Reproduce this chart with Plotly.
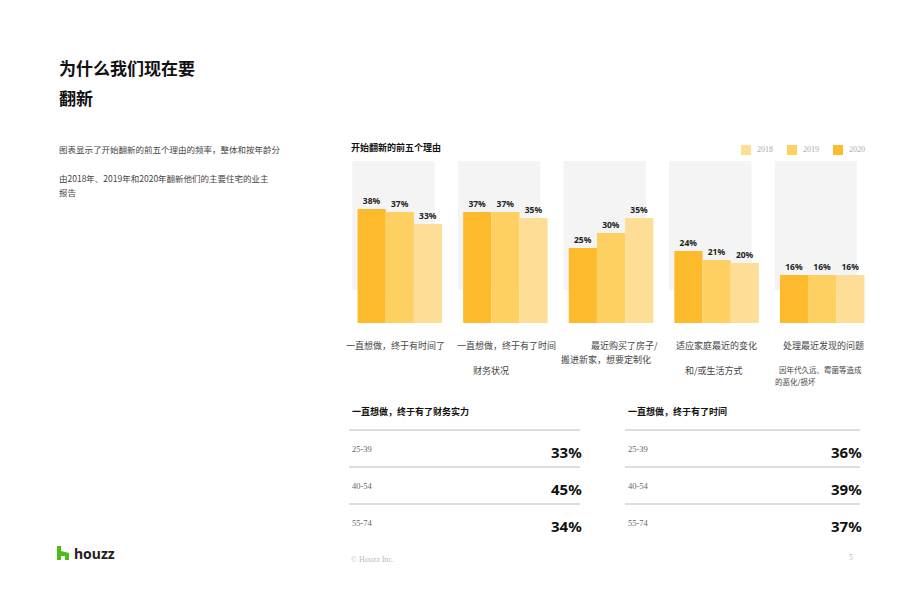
import plotly.graph_objects as go

# -----------------------------
# Data
# -----------------------------
groups = [0, 1, 2, 3, 4]
years = ["2020", "2019", "2018"]
values_2020 = [38, 37, 25, 24, 16]
values_2019 = [37, 37, 30, 21, 16]
values_2018 = [33, 35, 35, 20, 16]
year_colors = {"2020": "#FDBA2C", "2019": "#FECF61", "2018": "#FEDE96"}

table_ages = ["25-39", "40-54", "55-74"]
money_pct = [33, 45, 34]
time_pct = [36, 39, 37]

# page body has an 8px margin, so the figure is a bit smaller and offset
OFF = 8
W, H = 920 - 2 * OFF, 596 - 2 * OFF


def px(x):
    return (x - OFF) / W


def py(y):
    return 1 - (y - OFF) / H


fig = go.Figure()
for yr, vals in zip(years, [values_2020, values_2019, values_2018]):
    fig.add_trace(go.Bar(
        x=groups, y=vals, name=yr,
        marker=dict(color=year_colors[yr], line=dict(width=0)),
        text=[f"<b>{v}%</b>" for v in vals], textposition="outside",
        textfont=dict(family="Noto Sans", size=8.5, color="#222"),
        cliponaxis=False, hoverinfo="skip",
    ))

# gray panels behind each group
for g in groups:
    fig.add_shape(type="rect", xref="x", yref="y", x0=g - 0.45, x1=g + 0.33,
                  y0=11, y1=54, fillcolor="#F4F4F4", line_width=0, layer="below")

ann = []
shapes = []


def text(x, y, s, size=9, color="#444", bold=False, anchor="left", family="Noto Sans CJK SC"):
    if bold:
        s = f"<b>{s}</b>"
    ann.append(dict(xref="paper", yref="paper", x=px(x), y=py(y), text=s, showarrow=False,
                    xanchor=anchor, yanchor="middle",
                    font=dict(size=size, color=color, family=family)))


# titles and intro
text(57, 68, "为什么我们现在要", 17, "#111", True)
text(57, 97, "翻新", 17, "#111", True)
text(57, 149, "图表显示了开始翻新的前五个理由的频率，整体和按年龄分", 8.5, "#444")
text(57, 178, "由2018年、2019年和2020年翻新他们的主要住宅的业主", 8.5, "#444")
text(57, 192, "报告", 8.5, "#444")
text(349, 147, "开始翻新的前五个理由", 9, "#111", True)

# custom legend (2018, 2019, 2020)
for yr, lx in zip(["2018", "2019", "2020"], [741, 787, 833]):
    shapes.append(dict(type="rect", xref="paper", yref="paper", x0=px(lx), x1=px(lx + 10),
                       y0=py(155), y1=py(145), fillcolor=year_colors[yr], line_width=0))
    text(lx + 14, 150, yr, 8, "#AAAAAA", family="Liberation Serif")

# category labels
cat = [
    (395, 345, "一直想做，终于有时间了", "center", 9),
    (506, 345, "一直想做，终于有了时间", "center", 9),
    (491, 370, "财务状况", "center", 9),
    (660, 345, "最近购买了房子/", "right", 9),
    (606, 359, "搬进新家，想要定制化", "center", 9),
    (716, 345, "适应家庭最近的变化", "center", 9),
    (714, 370, "和/或生活方式", "center", 9),
    (823, 345, "处理最近发现的问题", "center", 9),
    (820, 369, "因年代久远、霉菌等造成", "center", 7.5),
    (773, 381, "的恶化/损坏", "left", 7.5),
]
for x, y, s, a, sz in cat:
    text(x, y, s, sz, "#444", anchor=a)

# tables
for x0, x1, header, pcts in [(349, 580, "一直想做，终于有了财务实力", money_pct),
                             (625, 860, "一直想做，终于有了时间", time_pct)]:
    text(x0 + 1, 411, header, 9, "#111", True)
    for i, (age, p) in enumerate(zip(table_ages, pcts)):
        ly = 430 + i * 37
        shapes.append(dict(type="line", xref="paper", yref="paper", x0=px(x0), x1=px(x1),
                           y0=py(ly), y1=py(ly), line=dict(color="#BBBBBB", width=1)))
        text(x0 + 1, 449 + i * 37, age, 8.5, "#666", family="Liberation Serif")
        text(x1 + 4, 452 + i * 37, f"<b>{p}%</b>", 15, "#111", anchor="right", family="Noto Sans")

# footer
text(349, 559, "© Houzz Inc.", 8, "#BBBBBB", family="Liberation Serif")
text(855, 557, "5", 8, "#BBBBBB", anchor="right", family="Liberation Serif")
text(72, 553, "<b>houzz</b>", 14, "#222", family="Noto Sans")
shapes.append(dict(type="path", xref="paper", yref="paper",
                   path=f"M {px(57)} {py(560)} L {px(57)} {py(546)} L {px(61)} {py(546)} "
                        f"L {px(61)} {py(551)} L {px(69)} {py(553)} L {px(69)} {py(560)} "
                        f"L {px(65)} {py(560)} L {px(65)} {py(556)} L {px(61)} {py(556)} "
                        f"L {px(61)} {py(560)} Z",
                   fillcolor="#4DBC15", line_width=0))

for s in shapes:
    fig.add_shape(**s)

fig.update_layout(
    width=W, height=H, margin=dict(l=0, r=0, t=0, b=0),
    paper_bgcolor="white", plot_bgcolor="rgba(0,0,0,0)",
    barmode="group", bargap=0.2, bargroupgap=0,
    annotations=ann,
    showlegend=False,
    xaxis=dict(domain=[px(347), px(875)], range=[-0.5, 4.5], visible=False, fixedrange=True),
    yaxis=dict(domain=[py(323), py(143)], range=[0, 60], visible=False, fixedrange=True),
)

fig.write_html("out.html")
